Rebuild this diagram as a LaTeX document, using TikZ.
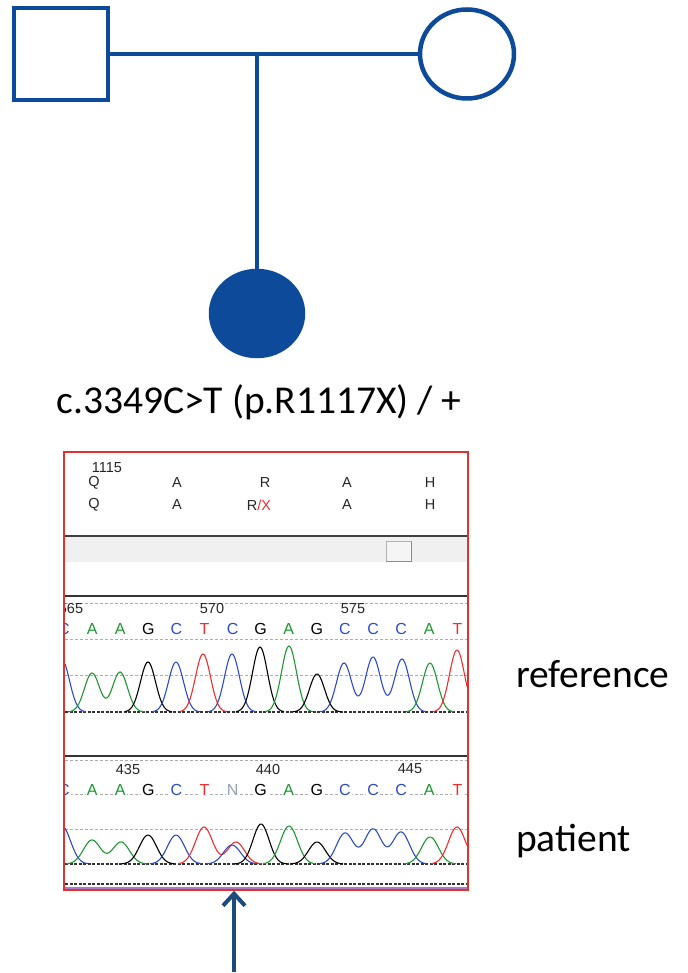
\documentclass[tikz,border=0pt]{standalone}
\usepackage{fontspec}
\setmainfont{Carlito}
\newfontfamily\arialfont{Liberation Sans}
\usepackage{tikz}
\usetikzlibrary{shapes.geometric}
\usetikzlibrary{arrows.meta}

\definecolor{pedblue}{RGB}{13,74,153}
\definecolor{arrowblue}{RGB}{29,76,124}
\definecolor{boxred}{RGB}{222,52,48}
\definecolor{trgreen}{RGB}{30,150,50}
\definecolor{trblue}{RGB}{45,75,200}
\definecolor{trred}{RGB}{240,45,45}
\definecolor{ngray}{RGB}{150,160,185}
\definecolor{bandpurple}{RGB}{175,120,200}

\pgfmathdeclarefunction{pk}{4}{\pgfmathparse{#3*exp(-((#1-#2)^2)/(2*#4*#4))}}

\begin{document}
\begin{tikzpicture}[x=1pt,y=-1pt,
        person/.style={draw=pedblue,line width=4.5pt,inner sep=0pt},
        bigtext/.style={font=\fontsize{39.5}{40}\selectfont,inner sep=0pt},
        small/.style={font=\arialfont\fontsize{14.5}{15}\selectfont,inner sep=0pt,text=black!85},
        basetext/.style={font=\arialfont\fontsize{16}{16}\selectfont,inner sep=1pt},
        grid/.style={gray!65,line width=0.8pt,dash pattern=on 3pt off 2pt},
        zero/.style={black!80,line width=1.2pt,dash pattern=on 3pt off 1.5pt},
        trace/.style={line width=1.1pt}]
        \useasboundingbox (0,0) rectangle (687,973);

        \node(father) [person,rectangle,minimum width=94pt,minimum height=92pt] at (61,54) {};
        \node(mother) [person,ellipse,minimum width=94pt,minimum height=89pt] at (467,54) {};
        \node(child) [person,ellipse,fill=pedblue,minimum width=92pt,minimum height=85pt] at (257,313.5) {};
        \coordinate(mate) at (257,54);

        \draw[pedblue,line width=3.5pt] (father.east) -- (mother.west);
        \draw[pedblue,line width=3.5pt] (mate) -- (child.north);

        \node(geno) [bigtext,anchor=base] at (259,413) {c.3349C>T (p.R1117X) / +};

        \node(pos) [small] at (107,468) {1115};
        \foreach \x/\res [count=\i] in {94/Q,177/A,265/R,347/A,430/H}
            \node(wt\i) [small] at (\x,483) {\res};
        \foreach \x/\res [count=\i] in {94/Q,177/A,347/A,430/H}
            \node(mt\i) [small] at (\x,505) {\res};
        \node(stop) [small] at (259,505) {R\textcolor{trred}{/X}};

        \fill[gray!12] (65,537) rectangle (467,562);
        \draw[black!75,line width=1.5pt] (65,536) -- (467,536);
        \node(slider) [draw=gray!60,fill=gray!8,minimum width=25pt,minimum height=20pt,inner sep=0pt] at (398.5,551) {};
        \draw[gray!90,line width=1pt] (slider.south west) -- (slider.south east) -- (slider.north east);
        \draw[black!80,line width=1.5pt] (65,596) -- (467,596);

        \begin{scope}
        \clip (65,453) rectangle (467,889);
        \draw[grid] (65,603) -- (467,603);
        \draw[grid] (65,639) -- (467,639);
        \draw[grid] (65,675) -- (467,675);
        \draw[zero] (65,712) -- (467,712);
        \foreach \x/\n [count=\i] in {71/565,212/570,353/575}
            \node(rn\i) [small] at (\x,609) {\n};
        \foreach \b/\c [count=\i from 0] in {C/trblue,A/trgreen,A/trgreen,G/black,C/trblue,T/trred,C/trblue,G/black,A/trgreen,G/black,C/trblue,C/trblue,C/trblue,A/trgreen,T/trred}
            \node(rb\i) [basetext,text=\c] at ({64+28.1*\i},629) {\b};

        \draw[trace,trblue] plot[domain=65:86,samples=20] (\x,{712-pk(\x,62,52,7.5)});
        \draw[trace,trgreen] plot[domain=68:145,samples=60] (\x,{712-pk(\x,92,39,7.5)-pk(\x,120,40,7.5)});
        \draw[trace,black] plot[domain=125:172,samples=40] (\x,{712-pk(\x,148,50,7.5)});
        \draw[trace,trblue] plot[domain=152:200,samples=40] (\x,{712-pk(\x,176,50,7.5)});
        \draw[trace,trred] plot[domain=180:227,samples=40] (\x,{712-pk(\x,203,58,7.5)});
        \draw[trace,trblue] plot[domain=208:256,samples=40] (\x,{712-pk(\x,232,58,7.5)});
        \draw[trace,black] plot[domain=236:284,samples=40] (\x,{712-pk(\x,260,65,7.5)});
        \draw[trace,trgreen] plot[domain=265:313,samples=40] (\x,{712-pk(\x,289,66,7.5)});
        \draw[trace,black] plot[domain=293:341,samples=40] (\x,{712-pk(\x,317,38,7.5)});
        \draw[trace,trblue] plot[domain=320:426,samples=80] (\x,{712-pk(\x,344,49,7.5)-pk(\x,373,55,7.5)-pk(\x,402,53,7.5)});
        \draw[trace,trgreen] plot[domain=406:454,samples=40] (\x,{712-pk(\x,430,49,7.5)});
        \draw[trace,trred] plot[domain=433:467,samples=30] (\x,{712-pk(\x,457,62,7.5)});

        \draw[black!80,line width=1.5pt] (65,756) -- (467,756);
        \draw[grid] (65,760) -- (467,760);
        \foreach \x/\n [count=\i] in {128/435,268/440,410/445}
            \node(pn\i) [small] at (\x,769) {\n};
        \draw[grid] (65,794) -- (467,794);
        \foreach \b/\c [count=\i from 0] in {C/trblue,A/trgreen,A/trgreen,G/black,C/trblue,T/trred,N/ngray,G/black,A/trgreen,G/black,C/trblue,C/trblue,C/trblue,A/trgreen,T/trred}
            \node(pb\i) [basetext,text=\c,fill=white] at ({64+28.1*\i},790) {\b};
        \draw[grid] (65,829) -- (467,829);
        \draw[zero] (65,864) -- (467,864);

        \draw[trace,trblue] plot[domain=65:88,samples=20] (\x,{864-pk(\x,62,38,8.5)});
        \draw[trace,trgreen] plot[domain=66:147,samples=60] (\x,{864-pk(\x,92,24,8.5)-pk(\x,121,22,8.5)});
        \draw[trace,black] plot[domain=122:174,samples=40] (\x,{864-pk(\x,148,29,8.5)});
        \draw[trace,trblue] plot[domain=150:202,samples=40] (\x,{864-pk(\x,176,29,8.5)});
        \draw[trace,trred] plot[domain=178:262,samples=60] (\x,{864-pk(\x,204,37,8.5)-pk(\x,236,22,8.5)});
        \draw[trace,trblue] plot[domain=206:258,samples=40] (\x,{864-pk(\x,232,19,8.5)});
        \draw[trace,black] plot[domain=235:287,samples=40] (\x,{864-pk(\x,261,40,8)});
        \draw[trace,trgreen] plot[domain=263:315,samples=40] (\x,{864-pk(\x,289,38,8.5)});
        \draw[trace,black] plot[domain=291:343,samples=40] (\x,{864-pk(\x,317,22,8.5)});
        \draw[trace,trblue] plot[domain=319:427,samples=80] (\x,{864-pk(\x,345,31,8.5)-pk(\x,373,35,8.5)-pk(\x,401,32,8.5)});
        \draw[trace,trgreen] plot[domain=404:456,samples=40] (\x,{864-pk(\x,430,27,8.5)});
        \draw[trace,trred] plot[domain=431:467,samples=30] (\x,{864-pk(\x,457,37,8.5)});

        \draw[zero] (65,884) -- (467,884);
        \draw[bandpurple,line width=2pt] (65,887.5) -- (467,887.5);
        \end{scope}

        \node(chrom) [draw=boxred,line width=1.5pt,minimum width=404pt,minimum height=438pt,inner sep=0pt] at (266,671) {};

        \node(reflabel) [bigtext,anchor=base west] at (516,687) {reference};
        \node(patlabel) [bigtext,anchor=base west] at (516,851) {patient};

        \coordinate(tail) at (234,972);
        \draw[arrowblue,line width=4pt,-{Straight Barb[length=12pt,width=22pt]}] (tail) -- (tail |- chrom.south);
\end{tikzpicture}
\end{document}
